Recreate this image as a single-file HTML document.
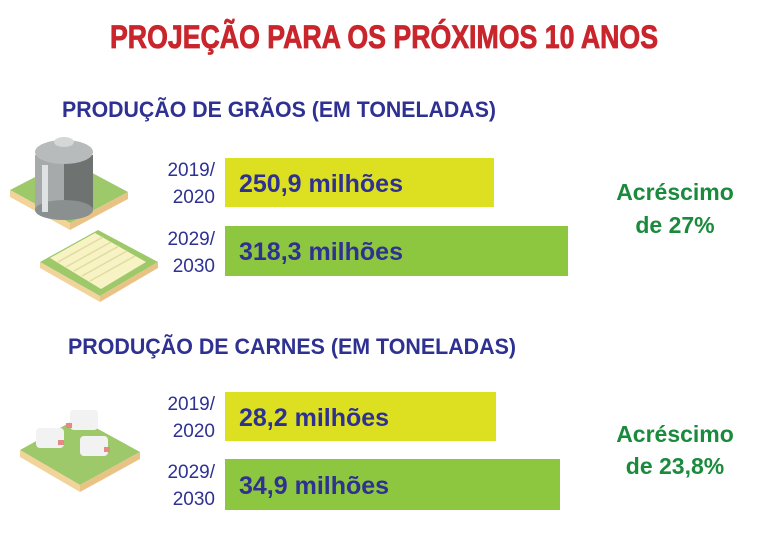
<!DOCTYPE html>
<html><head><meta charset="utf-8"><style>
body{margin:0;background:#fff;width:768px;height:534px;overflow:hidden}
svg{display:block}
</style></head><body>
<svg width="768" height="534" viewBox="0 0 768 534" xmlns="http://www.w3.org/2000/svg" font-family="Liberation Sans, sans-serif">
<text x="384" y="48" text-anchor="middle" font-size="32" font-weight="bold" fill="#c9252c" stroke="#c9252c" stroke-width="0.8" textLength="548" lengthAdjust="spacingAndGlyphs">PROJEÇÃO PARA OS PRÓXIMOS 10 ANOS</text>
<text x="62" y="117" font-size="22" font-weight="bold" fill="#2e3192" textLength="434" lengthAdjust="spacingAndGlyphs">PRODUÇÃO DE GRÃOS (EM TONELADAS)</text>
<text x="68" y="354" font-size="22" font-weight="bold" fill="#2e3192" textLength="448" lengthAdjust="spacingAndGlyphs">PRODUÇÃO DE CARNES (EM TONELADAS)</text>
<!-- silo -->
<polygon points="10,190 68,160 128,192 70,223" fill="#9ec96a"/>
<polygon points="10,190 70,223 70,230 10,197" fill="#f2d39a"/>
<polygon points="70,223 128,192 128,199 70,230" fill="#e8c385"/>
<rect x="35" y="155" width="58" height="55" fill="#a6aaab"/>
<rect x="64" y="155" width="29" height="55" fill="#6e7372"/>
<ellipse cx="64" cy="210" rx="29" ry="10" fill="#8a8f8f"/>
<ellipse cx="64" cy="152" rx="29" ry="12" fill="#b7bbbb"/>
<ellipse cx="64" cy="142" rx="10" ry="5" fill="#d4d7d7"/>
<rect x="42" y="165" width="6" height="47" fill="#dfe2e2"/>
<!-- greenhouse -->
<polygon points="40,262 98,230 158,262 100,296" fill="#9ec96a"/>
<polygon points="40,262 100,296 100,302 40,268" fill="#f2d39a"/>
<polygon points="100,296 158,262 158,268 100,302" fill="#e8c385"/>
<polygon points="50,258 95,233 146,262 101,289" fill="#f7f3c4"/>
<g stroke="#e2dca0" stroke-width="1.5"><line x1="58" y1="262" x2="103" y2="237"/><line x1="66" y1="267" x2="111" y2="242"/><line x1="74" y1="271" x2="119" y2="246"/><line x1="82" y1="276" x2="127" y2="251"/><line x1="90" y1="281" x2="135" y2="256"/></g>
<!-- cows -->
<polygon points="20,450 78,418 140,452 80,485" fill="#9ec96a"/>
<polygon points="20,450 80,485 80,492 20,457" fill="#f2d39a"/>
<polygon points="80,485 140,452 140,459 80,492" fill="#e8c385"/>
<rect x="70" y="410" width="28" height="20" rx="4" fill="#f2f2f2"/>
<rect x="36" y="428" width="28" height="20" rx="4" fill="#f2f2f2"/>
<rect x="80" y="436" width="28" height="20" rx="4" fill="#f2f2f2"/>
<rect x="66" y="423" width="6" height="5" fill="#e48a82"/><rect x="58" y="440" width="6" height="5" fill="#e48a82"/><rect x="104" y="447" width="6" height="5" fill="#e48a82"/>
<!-- bars -->
<g font-size="19" fill="#2e3192" text-anchor="end"><text x="215" y="176">2019/</text><text x="215" y="203">2020</text><text x="215" y="245">2029/</text><text x="215" y="272">2030</text>
<text x="215" y="410">2019/</text><text x="215" y="437">2020</text><text x="215" y="478">2029/</text><text x="215" y="505">2030</text></g>
<rect x="225" y="158" width="269" height="49" fill="#dce021"/>
<rect x="225" y="226" width="343" height="50" fill="#8dc63f"/>
<rect x="225" y="392" width="271" height="49" fill="#dce021"/>
<rect x="225" y="459" width="335" height="51" fill="#8dc63f"/>
<g font-size="25" font-weight="bold" fill="#2e3192"><text x="239" y="192">250,9 milhões</text><text x="239" y="260">318,3 milhões</text><text x="239" y="426">28,2 milhões</text><text x="239" y="494">34,9 milhões</text></g>
<g font-size="23" font-weight="bold" fill="#1a8a3c" text-anchor="middle"><text x="675" y="200">Acréscimo</text><text x="675" y="233">de 27%</text><text x="675" y="442">Acréscimo</text><text x="675" y="474">de 23,8%</text></g>
</svg>
</body></html>
